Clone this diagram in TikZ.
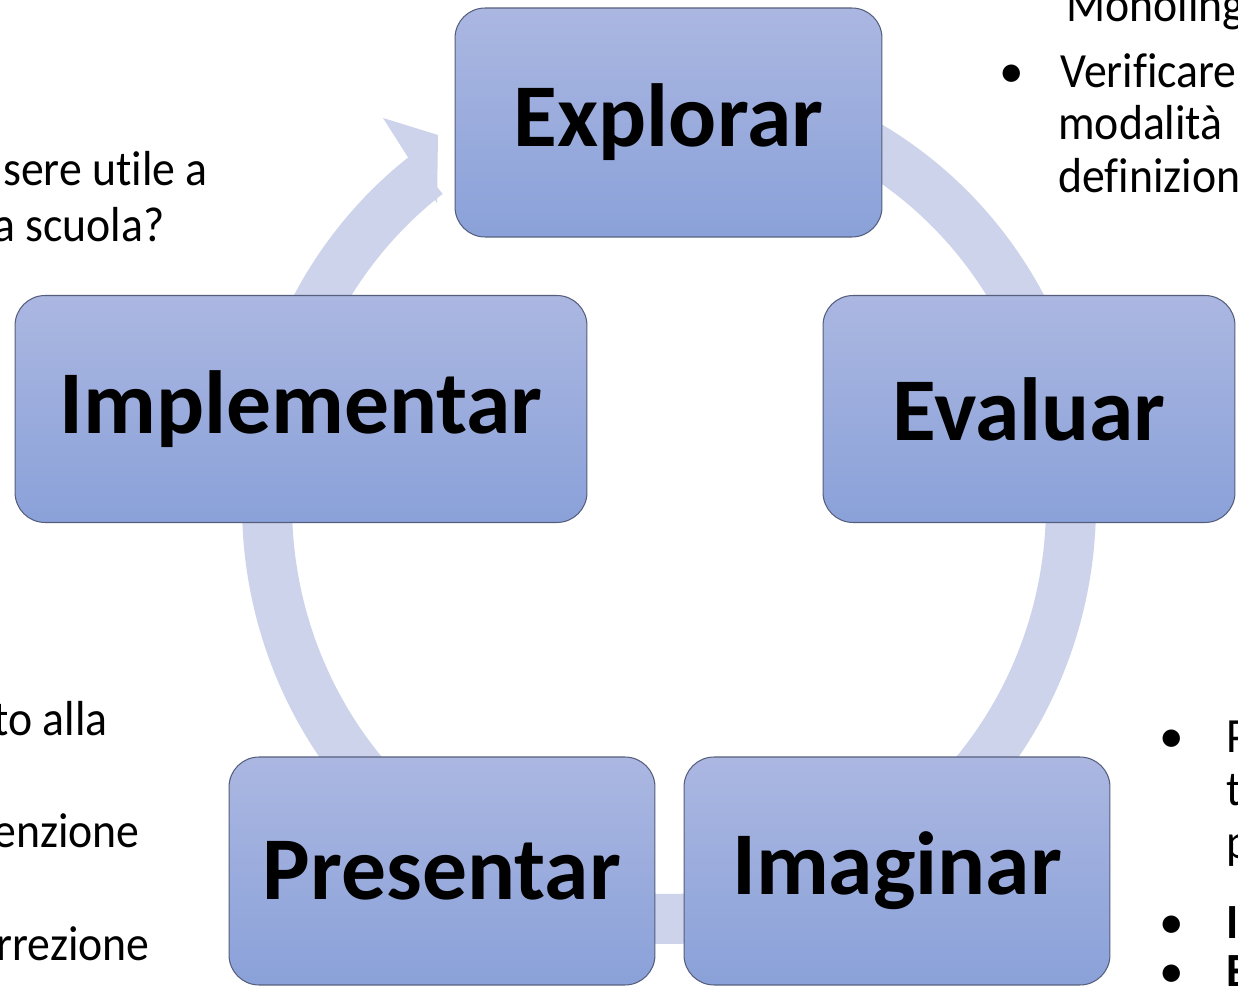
\documentclass[tikz,border=0pt]{standalone}
\usepackage{fontspec}
\setmainfont{Carlito}[Ligatures=NoCommon]
\definecolor{bandcol}{RGB}{205,211,234}
\definecolor{boxtop}{RGB}{171,183,225}
\definecolor{boxbot}{RGB}{138,161,217}
\definecolor{boxline}{RGB}{85,95,125}
\newcommand{\sqz}[1]{\scalebox{0.93}[1]{#1}}
\tikzset{
  stagebox/.style={rectangle, rounded corners=0.6cm, draw=boxline, line width=0.6pt,
    top color=boxtop, bottom color=boxbot, inner sep=0pt,
    font=\fontsize{51}{60}\selectfont\bfseries, text=black},
  band/.style={draw=bandcol, line width=1cm, line cap=butt},
  sidetext/.style={inner sep=0pt, font=\fontsize{28}{32}\selectfont, text=black},
  sidebold/.style={sidetext, font=\fontsize{28}{32}\selectfont\bfseries}
}
\begin{document}
\begin{tikzpicture}[x=0.02cm,y=-0.02cm]
\useasboundingbox (0,0) rectangle (1238,986);
\clip (0,0) rectangle (1238,986);
\fill[white] (0,0) rectangle (1238,986);
% cycle band and head
\draw[band] plot[domain=-233:80, samples=160, smooth, variable=\t] ({669+402*cos(\t)},{505-414*sin(\t)});
\coordinate (hw) at (383,118);
\coordinate (ht) at (438,135);
\coordinate (hi) at (437,203);
\fill[bandcol] (hw) -- (ht) -- (hi) -- cycle;
% stages
\node[stagebox, minimum width=8.54cm, minimum height=4.58cm] (explorar) at (668.5,122.5) {Explorar};
\node[stagebox, minimum width=8.24cm, minimum height=4.54cm] (evaluar) at (1029,409) {Evaluar};
\node[stagebox, minimum width=11.44cm, minimum height=4.54cm] (implementar) at (301,409) {Implementar};
\node[stagebox, minimum width=8.52cm, minimum height=4.56cm] (presentar) at (442,871) {Presentar};
\node[stagebox, minimum width=8.52cm, minimum height=4.56cm] (imaginar) at (897,871) {Imaginar};
% side texts, top right
\node[sidetext, anchor=base west] (tr0) at (1066,22) {\sqz{Monoling}};
\node[sidetext, anchor=base] (trb) at (1012,88) {•};
\node[sidetext, anchor=base west] (tr1) at (1060,88) {\sqz{Verificare}};
\node[sidetext, anchor=base west] (tr2) at (1058,140) {\sqz{modalità}};
\node[sidetext, anchor=base west] (tr3) at (1058,193) {\sqz{definizion}};
% top left
\node[sidetext, anchor=base east] (tl1) at (208,186) {\sqz{sere utile a}};
\node[sidetext, anchor=base east] (tl2) at (165,242) {\sqz{a scuola?}};
% bottom left
\node[sidetext, anchor=base east] (bl1) at (108,735) {\sqz{to alla}};
\node[sidetext, anchor=base east] (bl2) at (140,847) {\sqz{enzione}};
\node[sidetext, anchor=base east] (bl3) at (150,960) {\sqz{rrezione}};
% bottom right
\node[sidetext, anchor=base] (brb1) at (1172,752) {•};
\node[sidetext, anchor=base west] (br1) at (1226,752) {\sqz{P}};
\node[sidetext, anchor=base west] (br2) at (1226,805) {\sqz{t}};
\node[sidetext, anchor=base west] (br3) at (1226,858) {\sqz{p}};
\node[sidetext, anchor=base] (brb2) at (1172,938) {•};
\node[sidebold, anchor=base west] (br4) at (1226,938) {\sqz{I}};
\node[sidetext, anchor=base] (brb3) at (1172,987) {•};
\node[sidebold, anchor=base west] (br5) at (1226,987) {\sqz{E}};
\end{tikzpicture}
\end{document}
